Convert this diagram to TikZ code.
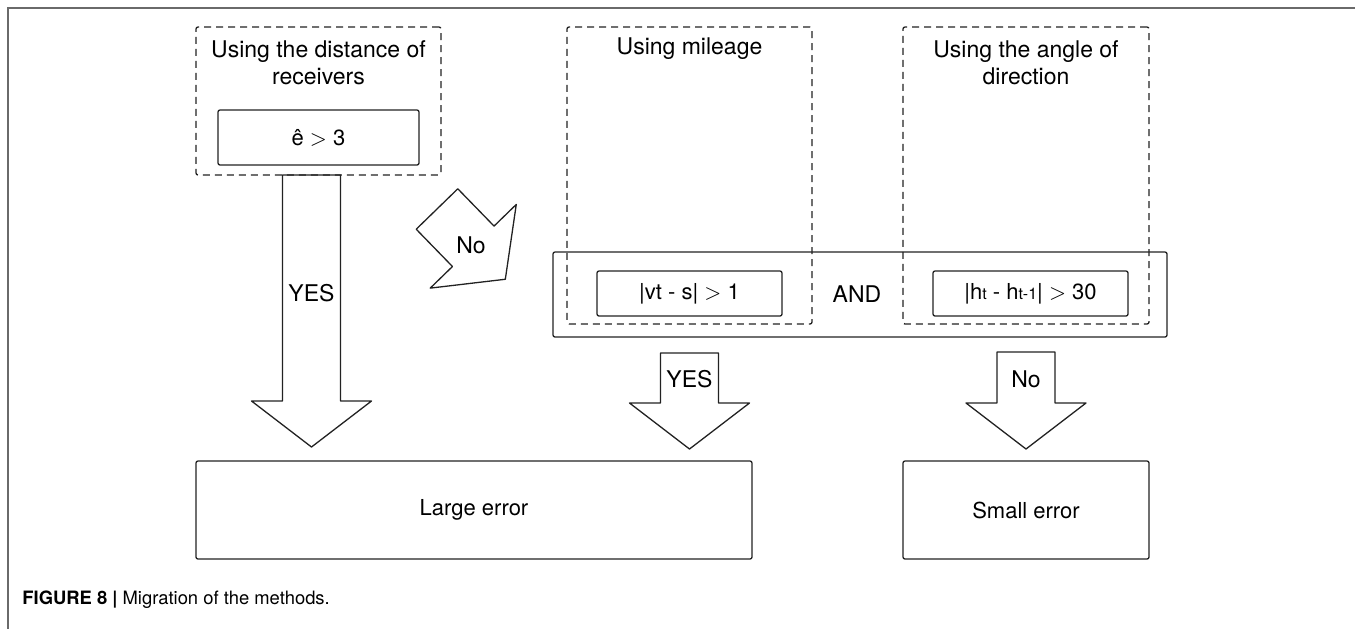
\documentclass[tikz,border=0pt]{standalone}
\usepackage{fontspec}
\setmainfont{TeX Gyre Heros}
\definecolor{framegray}{HTML}{6A6A6A}
\definecolor{inkgray}{HTML}{222222}
\tikzset{
    method/.style={draw=inkgray, dash pattern=on 3.5pt off 2.5pt, line width=0.65pt, rounded corners=1pt, inner sep=0pt},
    cond/.style={draw=inkgray, line width=0.65pt, rounded corners=1pt, inner sep=0pt, font=\fontsize{11}{13}\selectfont},
    result/.style={draw=inkgray, line width=0.65pt, rounded corners=1pt, inner sep=0pt, font=\fontsize{11}{13}\selectfont},
    title/.style={align=center, font=\fontsize{11.5}{13.5}\selectfont},
    lbl/.style={inner sep=0pt, font=\fontsize{11.5}{13.5}\selectfont},
}
% block arrow: start point, angle, shaft length
\newcommand{\fatarrow}[3]{%
    \draw[draw=inkgray, line width=0.65pt, line join=round, shift={#1}, rotate=#2]
        (0,29) -- (#3,29) -- (#3,60) -- ({#3+46},0) -- (#3,-60) -- (#3,-29) -- (0,-29) -- cycle;}
\newcommand{\sub}[1]{{\fontsize{8}{9}\selectfont #1}}
\newcommand{\gt}{\ensuremath{>}}
\begin{document}
\begin{tikzpicture}[x=0.5pt, y=-0.5pt]
    \useasboundingbox (0,0) rectangle (1355,629);
    %% frame
    \draw[framegray, line width=1pt] (1355,8) -- (8,8) -- (8,629);
    %% methods
    \node[method, minimum width=122.5pt, minimum height=74pt] (dist) at (318.5,101) {};
    \node[method, minimum width=122.5pt, minimum height=148.5pt] (mile) at (689.5,175.5) {};
    \node[method, minimum width=123pt, minimum height=148.5pt] (angle) at (1026,175.5) {};
    \node[title] (distT) at (318.5,62.5) {Using the distance of\\receivers};
    \node[title] (mileT) at (689.5,49) {Using mileage};
    \node[title] (angleT) at (1026,62.5) {Using the angle of\\direction};
    %% conditions
    \node[cond, minimum width=100.5pt, minimum height=27.5pt] (ehat) at (318.5,137.5) {ê \gt{} 3};
    \node[cond, minimum width=307pt, minimum height=42.5pt] (both) at (860,294.5) {};
    \node[cond, minimum width=92.5pt, minimum height=22.5pt] (speed) at (689.5,293.5) {|vt - s| \gt{} 1};
    \node[cond, minimum width=97.5pt, minimum height=22.5pt] (turn) at (1030.5,293.5) {|h\sub{t} - h\sub{t-1}| \gt{} 30};
    \node[lbl] (and) at (857,294) {AND};
    %% results
    \node[result, minimum width=278pt, minimum height=49pt] (large) at (474,510) {Large error};
    \node[result, minimum width=123pt, minimum height=49pt] (small) at (1026,510) {Small error};
    %% arrows
    \fatarrow{(311.5,175)}{-90}{226}
    \fatarrow{(437,209)}{-45.8}{52}
    \fatarrow{(689.5,353)}{-90}{50}
    \fatarrow{(1026,352)}{-90}{51}
    \node[lbl] (yesA) at (311.5,293) {YES};
    \node[lbl] (noA) at (471,245) {No};
    \node[lbl] (yesB) at (689.5,379) {YES};
    \node[lbl] (noB) at (1026,379) {No};
    %% caption
    \node[anchor=west, inner sep=0pt, font=\fontsize{9.2}{11}\selectfont] (cap) at (22,600) {\textbf{FIGURE 8 |} Migration of the methods.};
\end{tikzpicture}
\end{document}
